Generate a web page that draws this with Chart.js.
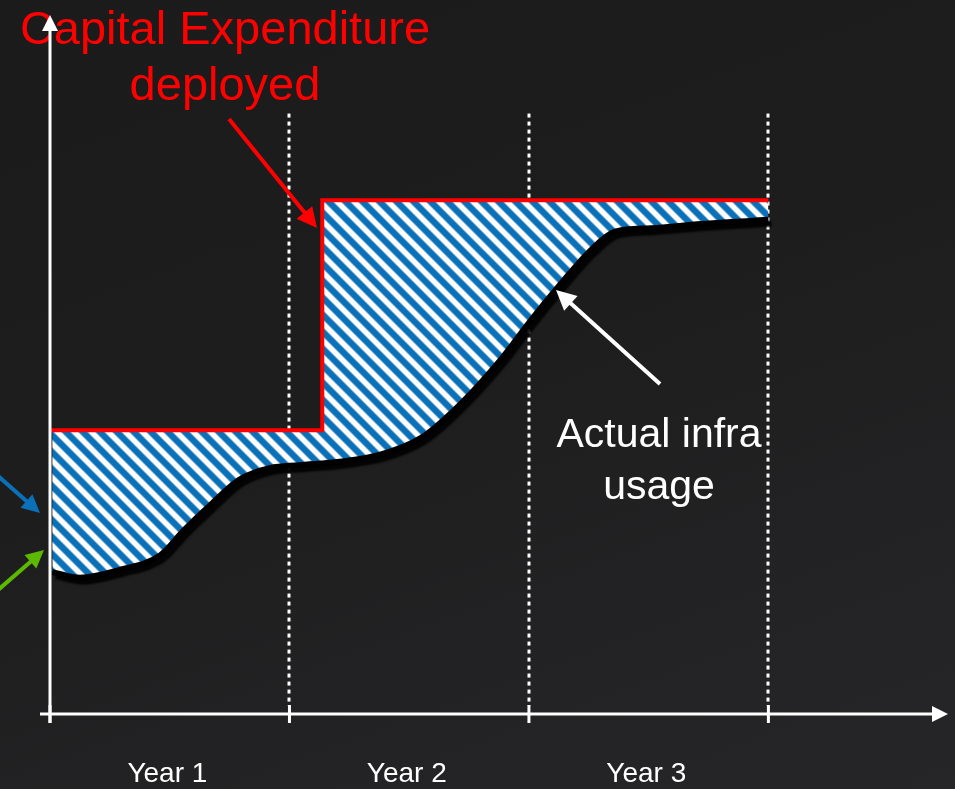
<!DOCTYPE html>
<html>
<head>
<meta charset="utf-8">
<script src="https://cdn.jsdelivr.net/npm/chart.js@4.4.1/dist/chart.umd.min.js"></script>
<style>
    html, body { margin: 0; padding: 0; background: #1d1c1d; }
    #wrap { width: 955px; height: 789px; background: linear-gradient(160deg, #1b1b1b 0%, #1e1d1e 45%, #262628 100%); }
</style>
</head>
<body>
<div id="wrap"><canvas id="chart" width="955" height="789"></canvas></div>
<script>
// Capex step (years, % of capacity)
const capexX = [0, 1.137, 1.137, 3.0];
const capexY = [40.6, 40.6, 73.5, 73.5];

// Actual usage curve
const usageX = [0.01, 0.125, 0.29, 0.46, 0.56, 0.67, 0.79, 0.92, 1.04, 1.21, 1.38, 1.55, 1.71, 1.88, 2.01, 2.13, 2.26, 2.36, 2.51, 2.72, 3.0];
const usageY = [20.3, 19.5, 20.6, 22.7, 26.3, 29.9, 33.5, 35.2, 35.6, 36.1, 37.1, 39.5, 44.2, 50.6, 56.4, 61.4, 66.4, 69.0, 69.5, 70.1, 70.7];

const yearTicks = [0, 1, 2, 3];
const yearLabels = ['Year 1', 'Year 2', 'Year 3'];
const yearLabelPos = [0.49, 1.49, 2.49];

// Hatch pattern (soft blue diagonal stripes on white)
function makeHatch() {
    const p = 17;
    const c = document.createElement('canvas');
    c.width = p; c.height = p;
    const g = c.getContext('2d');
    const img = g.createImageData(p, p);
    for (let y = 0; y < p; y++) {
        for (let x = 0; x < p; x++) {
            const ph = ((x - y) % p + p) % p;
            const d = Math.abs(ph + 0.5 - p / 2);      // distance from stripe centre
            let t;                                     // 1 = blue, 0 = white
            if (d < 3.4) t = 1;
            else if (d < 5.8) t = 1 - (d - 3.4) / 2.4;
            else t = 0;
            const i = (y * p + x) * 4;
            img.data[i] = Math.round(255 + (10 - 255) * t);
            img.data[i + 1] = Math.round(255 + (112 - 255) * t);
            img.data[i + 2] = Math.round(255 + (184 - 255) * t);
            img.data[i + 3] = 255;
        }
    }
    g.putImageData(img, 0, 0);
    return g.createPattern(c, 'repeat');
}

function arrow(ctx, x1, y1, x2, y2, color, w, head) {
    const a = Math.atan2(y2 - y1, x2 - x1);
    ctx.save();
    ctx.strokeStyle = color;
    ctx.fillStyle = color;
    ctx.lineWidth = w;
    ctx.beginPath();
    ctx.moveTo(x1, y1);
    ctx.lineTo(x2 - Math.cos(a) * head * 0.8, y2 - Math.sin(a) * head * 0.8);
    ctx.stroke();
    ctx.beginPath();
    ctx.moveTo(x2, y2);
    ctx.lineTo(x2 - head * Math.cos(a) + head * 0.5 * Math.sin(a), y2 - head * Math.sin(a) - head * 0.5 * Math.cos(a));
    ctx.lineTo(x2 - head * Math.cos(a) - head * 0.5 * Math.sin(a), y2 - head * Math.sin(a) + head * 0.5 * Math.cos(a));
    ctx.closePath();
    ctx.fill();
    ctx.restore();
}

const decor = {
    id: 'decor',
    beforeDraw(chart) {
        const ctx = chart.ctx;
        const xs = chart.scales.x, ys = chart.scales.y;
        const base = ys.getPixelForValue(0);
        // dotted year separators (hidden under the hatch)
        ctx.save();
        ctx.strokeStyle = '#ffffff';
        ctx.lineWidth = 3;
        ctx.setLineDash([4, 4]);
        yearTicks.slice(1).forEach(t => {
            const px = Math.round(xs.getPixelForValue(t));
            ctx.beginPath();
            ctx.moveTo(px, ys.getPixelForValue(85.9));
            ctx.lineTo(px, base - 8);
            ctx.stroke();
        });
        ctx.restore();
    },
    beforeDatasetDraw(chart, args) {
        if (args.index === 1) {
            chart.ctx.shadowColor = 'rgba(0,0,0,0.9)';
            chart.ctx.shadowOffsetX = 3;
            chart.ctx.shadowOffsetY = 4;
            chart.ctx.shadowBlur = 2;
        }
    },
    afterDatasetDraw(chart, args) {
        if (args.index === 1) {
            chart.ctx.shadowColor = 'transparent';
            chart.ctx.shadowOffsetX = 0;
            chart.ctx.shadowOffsetY = 0;
            chart.ctx.shadowBlur = 0;
        }
    },
    afterDraw(chart) {
        const ctx = chart.ctx;
        const xs = chart.scales.x, ys = chart.scales.y;
        const x0 = xs.getPixelForValue(0);
        const base = ys.getPixelForValue(0);
        const area = chart.chartArea;

        ctx.save();
        ctx.textAlign = 'center';
        ctx.textBaseline = 'middle';

        // annotations (under the axis arrow)
        ctx.fillStyle = '#ff0000';
        ctx.font = '47px "Liberation Sans", Arial, sans-serif';
        ctx.fillText('Capital Expenditure', 225, 31);
        ctx.fillText('deployed', 225, 87);

        ctx.fillStyle = '#ffffff';
        ctx.font = '41px "Liberation Sans", Arial, sans-serif';
        ctx.fillText('Actual infra', 659, 436);
        ctx.fillText('usage', 659, 488);

        // year labels
        ctx.font = '28px "Liberation Sans", Arial, sans-serif';
        yearLabels.forEach((l, i) => {
            ctx.fillText(l, xs.getPixelForValue(yearLabelPos[i]), base + 60);
        });
        ctx.restore();

        // axes
        arrow(ctx, x0, base + 9, x0, area.top, '#ffffff', 3, 16);
        arrow(ctx, x0 - 10, base, area.right, base, '#ffffff', 3, 16);
        ctx.save();
        ctx.strokeStyle = '#ffffff';
        ctx.lineWidth = 3;
        yearTicks.forEach(t => {
            const px = xs.getPixelForValue(t);
            ctx.beginPath();
            ctx.moveTo(px, base - 9);
            ctx.lineTo(px, base + 9);
            ctx.stroke();
        });
        ctx.restore();

        arrow(ctx, 229, 119, 317, 228, '#ff0000', 4, 20);
        arrow(ctx, 660, 384, 556, 290, '#ffffff', 4, 20);
        arrow(ctx, -2, 476, 40, 513, '#0a70b8', 4, 18);
        arrow(ctx, -2, 590, 44, 550, '#5cb800', 4, 18);
    }
};

const hatch = makeHatch();

new Chart(document.getElementById('chart'), {
    type: 'line',
    data: {
        datasets: [
            {
                label: 'Capital Expenditure deployed',
                data: capexX.map((x, i) => ({ x: x, y: capexY[i] })),
                borderColor: '#ff0000',
                borderWidth: 4,
                backgroundColor: hatch,
                fill: 1,
                tension: 0,
                pointRadius: 0
            },
            {
                label: 'Actual infra usage',
                data: usageX.map((x, i) => ({ x: x, y: usageY[i] })),
                borderColor: '#000000',
                borderWidth: 6,
                fill: false,
                cubicInterpolationMode: 'monotone',
                pointRadius: 0
            }
        ]
    },
    options: {
        responsive: false,
        animation: false,
        layout: { padding: { left: 50, right: 7, top: 15, bottom: 75 } },
        scales: {
            x: { type: 'linear', min: 0, max: 3.75, display: false },
            y: { min: 0, max: 100, display: false }
        },
        plugins: {
            legend: { display: false },
            tooltip: { enabled: false },
            filler: { drawTime: 'beforeDatasetsDraw' }
        }
    },
    plugins: [decor]
});
</script>
</body>
</html>
